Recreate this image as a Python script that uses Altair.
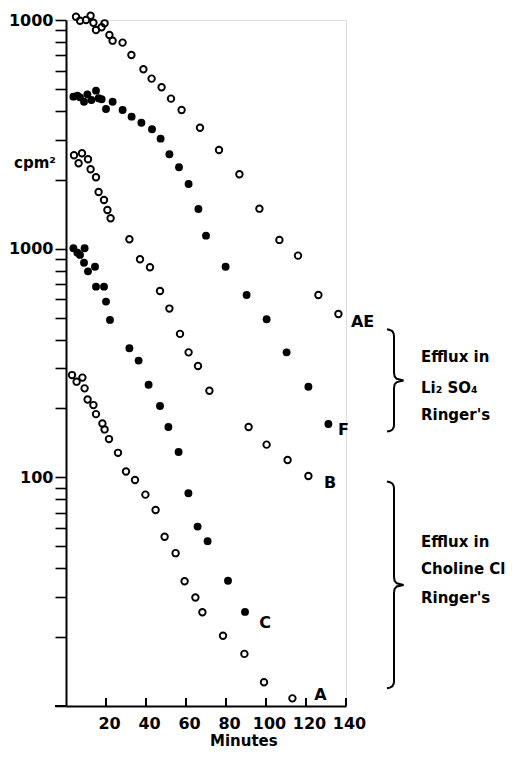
import altair as alt
import pandas as pd
import math

# ---- data (minutes, cpm^2) ----
ae_t = [5, 7, 10, 12.3, 13.7, 15, 17.8, 19.3, 21.7, 23.3, 28.3, 32.7, 38.7, 42.8, 47.8, 52.5, 57.8, 67, 76.5, 86.7, 96.7, 106.7, 116, 126.2, 136.2]
ae_v = [10340, 9930, 10000, 10440, 9730, 9040, 9290, 9670, 8600, 8120, 7960, 7030, 6090, 5540, 5080, 4530, 4040, 3380, 2700, 2116, 1496, 1092, 932, 627, 518]

f_t = [3.7, 5.7, 7, 9, 10.7, 12.7, 15, 16.3, 17.8, 20, 23.3, 28.3, 32.8, 37.7, 43, 47.3, 51.7, 56.5, 61.3, 66.2, 70, 79.8, 90.3, 100.3, 110.3, 121.2, 131.2]
f_v = [4620, 4670, 4590, 4390, 4730, 4470, 4910, 4545, 4500, 4080, 4390, 4040, 3778, 3555, 3327, 3027, 2587, 2270, 1918, 1491, 1140, 834, 627, 491, 352, 249, 171]

b_t = [4, 6.3, 8, 11, 12.3, 15, 16.3, 19, 20.7, 22.3, 31.7, 37, 42, 47, 51.7, 57, 61.3, 66, 71.7, 91.3, 100.3, 110.8, 121.2]
b_v = [2561, 2363, 2613, 2460, 2225, 2052, 1770, 1633, 1476, 1358, 1099, 899, 829, 653, 547, 424, 352, 307, 239, 166, 139, 119, 101.4]

c_t = [3.7, 5.7, 7, 9.3, 9, 11, 14.5, 15, 19, 20, 22, 31.7, 36.3, 41.3, 47, 51.2, 56.3, 61.2, 65.8, 70.8, 81, 89.5]
c_v = [1004, 960, 939, 1004, 868, 796, 834, 682, 682, 587, 488, 367, 324, 254, 205, 166, 129, 85.2, 60.9, 52.6, 35.3, 25.8]

a_t = [3, 5.3, 8.2, 9.3, 10.8, 13.7, 15, 18.2, 19.3, 21.5, 26, 30, 34.5, 39.7, 44.8, 49.3, 54.8, 59.3, 64.7, 68.2, 78.5, 89.2, 99, 113.2]
a_v = [280, 262, 273, 245, 219, 207, 189, 172, 162, 147, 128, 106, 97.4, 84.0, 72.0, 55.0, 46.6, 35.1, 29.8, 25.7, 20.3, 16.9, 12.7, 10.8]

x_ticks = [20, 40, 60, 80, 100, 120, 140]
y_ticks = [m * d for d in (10, 100, 1000) for m in range(1, 10)] + [10000]

curve_labels = ["AE", "F", "B", "C", "A"]
curve_label_t = [148.3, 138.7, 132, 99.5, 127.2]
curve_label_v = [480, 161, 94.8, 23.0, 11.2]

note_lines = ["Efflux in", "Li₂ SO₄", "Ringer's", "Efflux in", "Choline Cl", "Ringer's"]
note_t = [177.5] * 6
note_v = [337, 246, 187, 52.4, 39.8, 29.7]

brace_t = [164, 164]
brace_top = [444, 95.8]
brace_bottom = [158.5, 11.96]

FONT = "DejaVu Sans"
PX_PER_DECADE = 686 / 3.0
PX_PER_MIN = 2.0

open_df = pd.DataFrame(
    {"t": ae_t + b_t + a_t, "v": ae_v + b_v + a_v,
     "s": ["AE"] * len(ae_t) + ["B"] * len(b_t) + ["A"] * len(a_t)})
fill_df = pd.DataFrame(
    {"t": f_t + c_t, "v": f_v + c_v, "s": ["F"] * len(f_t) + ["C"] * len(c_t)})

xs = alt.Scale(domain=[0, 140], nice=False, zero=False)
ys = alt.Scale(type="log", domain=[10, 10000], nice=False)

label_expr = ("datum.value == 10000 ? '1000' : datum.value == 1000 ? '1000' : "
              "datum.value == 100 ? '100' : ''")

X = alt.X("t:Q", scale=xs, title=None,
          axis=alt.Axis(values=x_ticks, ticks=False, tickSize=0, labelPadding=9,
                        domainColor="black", domainWidth=2, grid=False,
                        labelFont=FONT, labelFontSize=16, labelColor="black",
                        labelFontWeight="bold", labelOverlap=False,
                        labelFlush=False, labelBound=False, labelOffset=3))
Y = alt.Y("v:Q", scale=ys, title=None,
          axis=alt.Axis(values=y_ticks, labelExpr=label_expr, tickSize=11,
                        tickColor="black", tickWidth=1.6, domainColor="black",
                        domainWidth=2, grid=False, labelPadding=2,
                        labelFont=FONT, labelFontSize=16, labelColor="black",
                        labelFontWeight="bold", labelBound=False, labelOverlap=False,
                        labelFlush=False))

open_pts = alt.Chart(open_df).mark_point(
    shape="circle", filled=False, color="black", strokeWidth=1.9, size=42, opacity=1
).encode(x=X, y=Y)

fill_pts = alt.Chart(fill_df).mark_circle(
    color="black", size=62, opacity=1
).encode(x=X, y=Y)

# inward x ticks
xt_df = pd.DataFrame({"t": x_ticks, "v": [10] * len(x_ticks),
                      "v2": [10 * 10 ** (8 / PX_PER_DECADE)] * len(x_ticks)})
x_tick_rules = alt.Chart(xt_df).mark_rule(color="black", strokeWidth=2).encode(
    x=X, y=Y, y2="v2:Q")

# extension of x axis line to the left of the y axis
ext_df = pd.DataFrame({"t": [-5.5], "t2": [0], "v": [10]})
ext_rule = alt.Chart(ext_df).mark_rule(color="black", strokeWidth=2).encode(
    x=X, x2="t2:Q", y=Y)

# curve labels
cl_df = pd.DataFrame({"t": curve_label_t, "v": curve_label_v, "txt": curve_labels})
curve_text = alt.Chart(cl_df).mark_text(
    font=FONT, fontSize=16, fontWeight="bold", color="black", align="center",
    baseline="middle").encode(x=X, y=Y, text="txt:N")

# notes next to braces
nt_df = pd.DataFrame({"t": note_t, "v": note_v, "txt": note_lines})
note_text = alt.Chart(nt_df).mark_text(
    font=FONT, fontSize=15, fontWeight="bold", color="black", align="left",
    baseline="middle").encode(x=X, y=Y, text="txt:N")

# axis title pieces
misc_df = pd.DataFrame({"t": [-15.5, 88.9], "v": [2370, 7.05], "txt": ["cpm²", "Minutes"]})
misc_text = alt.Chart(misc_df).mark_text(
    font=FONT, fontSize=15, fontWeight="bold", color="black", align="center",
    baseline="middle").encode(x=X, y=Y, text="txt:N")

# braces built from their anchors (offsets in pixels converted to data units)
rows = []
for bi, (bt, vt, vb) in enumerate(zip(brace_t, brace_top, brace_bottom)):
    h = math.log10(vt / vb) * PX_PER_DECADE
    mid = h / 2
    shape = [(-7, 0), (-4, 0.6), (-1.6, 2), (-0.3, 4.5), (0, 7),
             (0, mid - 8), (0.6, mid - 4), (2.8, mid - 1.6), (9.5, mid),
             (2.8, mid + 1.6), (0.6, mid + 4), (0, mid + 8),
             (0, h - 7), (-0.3, h - 4.5), (-1.6, h - 2), (-4, h - 0.6), (-7, h)]
    for i, (dx, dy) in enumerate(shape):
        rows.append({"b": bi, "i": i, "t": bt + dx / PX_PER_MIN,
                     "v": vt * 10 ** (-dy / PX_PER_DECADE)})
br_df = pd.DataFrame(rows)
braces = alt.Chart(br_df).mark_line(color="black", strokeWidth=2).encode(
    x=X, y=Y, detail="b:N", order="i:Q")

chart = alt.layer(
    open_pts, fill_pts, x_tick_rules, ext_rule, curve_text, note_text, misc_text, braces
).properties(
    width=280, height=686,
    autosize=alt.AutoSizeParams(type="none"),
    padding={"left": 58, "top": 12, "right": 160, "bottom": 45},
).configure_view(stroke=None).configure(background="white")

chart.save("out.html", embed_options={"renderer": "svg", "actions": False})
